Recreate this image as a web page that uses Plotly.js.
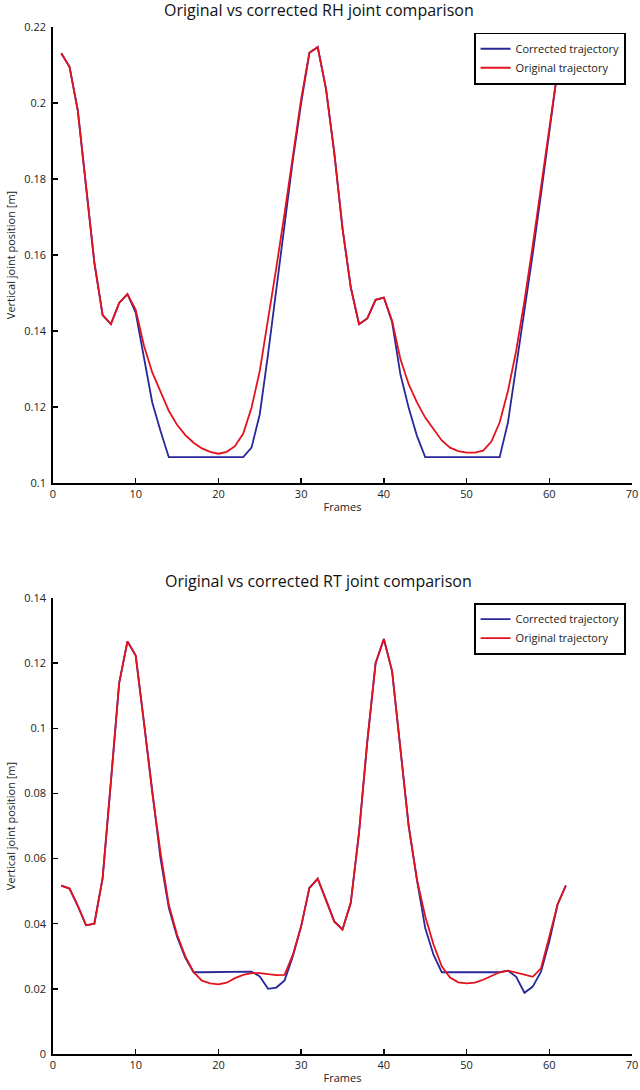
<!DOCTYPE html>
<html>
<head>
<meta charset="utf-8">
<script src="https://cdn.plot.ly/plotly-3.0.1.min.js"></script>
<style>html,body{margin:0;padding:0;background:#fff;}#chart{width:640px;height:1090px;}</style>
</head>
<body>
<div id="chart"></div>
<script>
var frames = [1,2,3,4,5,6,7,8,9,10,11,12,13,14,15,16,17,18,19,20,21,22,23,24,25,26,27,28,29,30,31,32,33,34,35,36,37,38,39,40,41,42,43,44,45,46,47,48,49,50,51,52,53,54,55,56,57,58,59,60,61,62];

var rhOriginal = [0.2131,0.2095,0.198,0.178,0.158,0.1442,0.1418,0.1474,0.1497,0.1456,
  0.1361,0.1291,0.1242,0.119,0.1153,0.1126,0.1106,0.1091,0.1082,0.1077,
  0.1082,0.1097,0.113,0.1198,0.1295,0.1427,0.1567,0.171,0.186,0.201,
  0.2132,0.2147,0.2038,0.187,0.167,0.1515,0.1418,0.1433,0.1482,0.1488,
  0.1427,0.1326,0.126,0.1212,0.1172,0.1141,0.1112,0.1093,0.1084,0.108,
  0.108,0.1085,0.1109,0.1159,0.1242,0.1348,0.148,0.1625,0.178,0.194,
  0.2086,0.213];

var rhCorrected = [0.2131,0.2095,0.198,0.178,0.158,0.1442,0.1418,0.1474,0.1497,0.1448,
  0.1327,0.1212,0.1137,0.1068,0.1068,0.1068,0.1068,0.1068,0.1068,0.1068,
  0.1068,0.1068,0.1068,0.1093,0.1181,0.1339,0.1515,0.168,0.185,0.2,
  0.2132,0.2147,0.2038,0.187,0.167,0.1515,0.1418,0.1433,0.1482,0.1488,
  0.1423,0.1286,0.1198,0.1124,0.1068,0.1068,0.1068,0.1068,0.1068,0.1068,
  0.1068,0.1068,0.1068,0.1068,0.1159,0.1304,0.1453,0.1603,0.176,0.193,
  0.2086,0.213];

var rtOriginal = [0.0517,0.0508,0.0455,0.0395,0.0400,0.0540,0.0836,0.1139,0.1267,0.1223,
  0.1017,0.0802,0.0618,0.0458,0.0366,0.0300,0.0251,0.0225,0.0217,0.0214,
  0.0219,0.0233,0.0243,0.0248,0.0248,0.0246,0.0242,0.0243,0.0305,0.0392,
  0.0510,0.0538,0.0474,0.0407,0.0382,0.0464,0.068,0.096,0.120,0.1274,
  0.1175,0.0932,0.070,0.0535,0.0423,0.0336,0.0269,0.0235,0.022,0.0217,
  0.0219,0.0228,0.024,0.0251,0.0256,0.0251,0.0244,0.0237,0.0263,0.036,
  0.0459,0.0517];

var rtCorrected = [0.0517,0.0508,0.0455,0.0395,0.0400,0.0540,0.0836,0.1139,0.1267,0.1223,
  0.1017,0.080,0.060,0.0449,0.036,0.0295,0.0251,0.0251,0.0251,0.0251,
  0.0251,0.0251,0.0251,0.0253,0.0238,0.0200,0.0204,0.0226,0.030,0.0392,
  0.0510,0.0538,0.0474,0.0407,0.0382,0.0464,0.068,0.096,0.120,0.1274,
  0.1175,0.0932,0.070,0.0535,0.0387,0.0305,0.0251,0.0251,0.0251,0.0251,
  0.0251,0.0251,0.0251,0.0251,0.0256,0.0237,0.0188,0.0207,0.0253,0.0345,
  0.0459,0.0517];

var seriesNames = ['Corrected trajectory', 'Original trajectory'];
var titles = ['Original vs corrected RH joint comparison', 'Original vs corrected RT joint comparison'];
var xTitle = 'Frames';
var yTitle = 'Vertical joint position [m]';

var BLUE = '#28289a';
var RED = '#e3121c';
var FONT = '"Open Sans", Lato, sans-serif';

var traces = [
  {x: frames, y: rhCorrected, name: seriesNames[0], xaxis: 'x', yaxis: 'y', legend: 'legend', mode: 'lines', line: {color: BLUE, width: 1.8}},
  {x: frames, y: rhOriginal, name: seriesNames[1], xaxis: 'x', yaxis: 'y', legend: 'legend', mode: 'lines', line: {color: RED, width: 1.8}},
  {x: frames, y: rtCorrected, name: seriesNames[0], xaxis: 'x2', yaxis: 'y2', legend: 'legend2', mode: 'lines', line: {color: BLUE, width: 1.8}},
  {x: frames, y: rtOriginal, name: seriesNames[1], xaxis: 'x2', yaxis: 'y2', legend: 'legend2', mode: 'lines', line: {color: RED, width: 1.8}}
];

function xAx(anchor) {
  return {domain: [0, 1], anchor: anchor, range: [0, 70], autorange: false, dtick: 10, tick0: 0,
    showgrid: false, zeroline: false, showline: true, linecolor: '#000', linewidth: 1.8,
    ticks: 'inside', ticklen: 5, tickwidth: 1.5, tickcolor: '#000',
    tickfont: {family: FONT, size: 11, color: '#222'},
    title: {text: xTitle, font: {family: FONT, size: 11, color: '#222'}, standoff: 3}};
}
function yAx(anchor, dom, rng, dt) {
  return {domain: dom, anchor: anchor, range: rng, autorange: false, dtick: dt, tick0: 0,
    showgrid: false, zeroline: false, showline: true, linecolor: '#000', linewidth: 1.8,
    ticks: 'inside', ticklen: 5, tickwidth: 1.5, tickcolor: '#000',
    ticklabelstandoff: 3,
    tickfont: {family: FONT, size: 11, color: '#222'},
    title: {text: yTitle, font: {family: FONT, size: 11, color: '#222'}, standoff: 6}};
}

var legendCommon = {xref: 'paper', yref: 'paper', xanchor: 'right', yanchor: 'top',
  bgcolor: '#fff', bordercolor: '#000', borderwidth: 1.6,
  font: {family: FONT, size: 11, color: '#222'}, itemwidth: 30, tracegroupgap: 0};

var layout = {
  width: 640, height: 1090,
  margin: {l: 53, r: 8, t: 27, b: 36},
  paper_bgcolor: '#fff', plot_bgcolor: '#fff',
  showlegend: true,
  xaxis: xAx('y'),
  yaxis: yAx('x', [0.556, 1], [0.1, 0.22], 0.02),
  xaxis2: xAx('y2'),
  yaxis2: yAx('x2', [0, 0.444], [0, 0.14], 0.02),
  legend: Object.assign({x: 0.9896, y: 0.9945}, legendCommon),
  legend2: Object.assign({x: 0.9896, y: 0.4391}, legendCommon),
  annotations: [
    {text: titles[0], xref: 'paper', yref: 'paper', x: 0.459, y: 1.0, yshift: 17, xanchor: 'center', yanchor: 'middle', showarrow: false, font: {family: FONT, size: 16, color: '#111'}},
    {text: titles[1], xref: 'paper', yref: 'paper', x: 0.459, y: 0.444, yshift: 17, xanchor: 'center', yanchor: 'middle', showarrow: false, font: {family: FONT, size: 16, color: '#111'}}
  ]
};

Plotly.newPlot('chart', traces, layout, {staticPlot: true, displayModeBar: false});
</script>
</body>
</html>
